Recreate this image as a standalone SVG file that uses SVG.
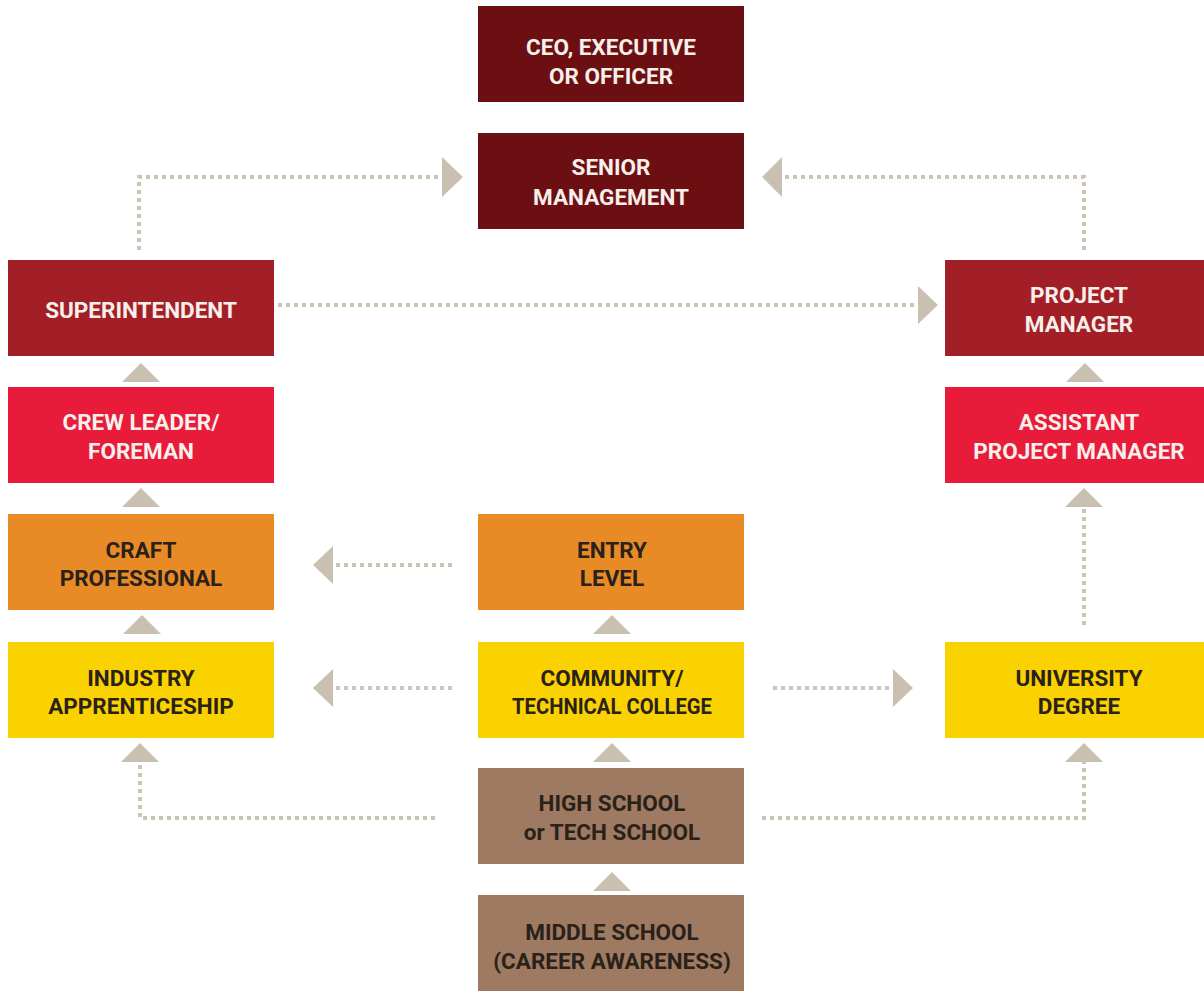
<svg xmlns="http://www.w3.org/2000/svg" width="1204" height="991" viewBox="0 0 1204 991">
<style>
  .box{stroke:none}
  .maroon{fill:#6c0f12}
  .dred{fill:#a31f27}
  .red{fill:#e81b3b}
  .orange{fill:#e88b27}
  .yellow{fill:#f9d200}
  .brown{fill:#9e7a62}
  text{font-family:Roboto,"Liberation Sans",Arial,sans-serif;font-weight:700;font-size:22.5px;text-anchor:middle}
  .lt{fill:#f7f0ea}
  .dk{fill:#2a2119}
  .dot{fill:none;stroke:#cdc4b6;stroke-width:4;stroke-dasharray:4 4}
  .tri{fill:#c9c0b1}
</style>
<rect width="1204" height="991" fill="#ffffff"/>
<g id="connectors">
  <path class="dot" d="M139,250 V177 H442"/>
  <polygon class="tri" points="442,157 463,177 442,197"/>
  <path class="dot" d="M1084,250 V177 H782"/>
  <polygon class="tri" points="782,157 762,177 782,197"/>
  <path class="dot" d="M278,305 H918"/>
  <polygon class="tri" points="918,286 938,305 918,324"/>
  <path class="dot" d="M452,565 H333"/>
  <polygon class="tri" points="333,546 313,565 333,584"/>
  <path class="dot" d="M452,688 H333"/>
  <polygon class="tri" points="333,669 313,688 333,707"/>
  <path class="dot" d="M773,688 H893"/>
  <polygon class="tri" points="893,669 913,688 893,707"/>
  <path class="dot" d="M435,818 H140 V762"/>
  <polygon class="tri" points="121,762 140,743 159,762"/>
  <path class="dot" d="M762,818 H1084 V762"/>
  <polygon class="tri" points="1065,762 1084,743 1103,762"/>
  <path class="dot" d="M1084,625 V507"/>
  <polygon class="tri" points="1065,507 1084,488 1103,507"/>
  <polygon class="tri" points="122,382 141,363 160,382"/>
  <polygon class="tri" points="122,507 141,488 160,507"/>
  <polygon class="tri" points="123,634 142,615 161,634"/>
  <polygon class="tri" points="1066,382 1085,363 1104,382"/>
  <polygon class="tri" points="593,634 612,615 631,634"/>
  <polygon class="tri" points="593,762 612,743 631,762"/>
  <polygon class="tri" points="593,891 612,872 631,891"/>
</g>
<g id="ceo">
  <rect class="box maroon" x="478" y="6" width="266" height="96"/>
  <text class="lt" x="611" y="55">CEO, EXECUTIVE</text>
  <text class="lt" x="611" y="84">OR OFFICER</text>
</g>
<g id="senior-management">
  <rect class="box maroon" x="478" y="133" width="266" height="96"/>
  <text class="lt" x="611" y="175">SENIOR</text>
  <text class="lt" x="611" y="205">MANAGEMENT</text>
</g>
<g id="superintendent">
  <rect class="box dred" x="8" y="260" width="266" height="96"/>
  <text class="lt" x="141" y="318">SUPERINTENDENT</text>
</g>
<g id="project-manager">
  <rect class="box dred" x="945" y="260" width="268" height="96"/>
  <text class="lt" x="1079" y="303">PROJECT</text>
  <text class="lt" x="1079" y="332">MANAGER</text>
</g>
<g id="crew-leader">
  <rect class="box red" x="8" y="387" width="266" height="96"/>
  <text class="lt" x="141" y="430">CREW LEADER/</text>
  <text class="lt" x="141" y="459">FOREMAN</text>
</g>
<g id="assistant-project-manager">
  <rect class="box red" x="945" y="387" width="268" height="96"/>
  <text class="lt" x="1079" y="430">ASSISTANT</text>
  <text class="lt" x="1079" y="459">PROJECT MANAGER</text>
</g>
<g id="craft-professional">
  <rect class="box orange" x="8" y="514" width="266" height="96"/>
  <text class="dk" x="141" y="558">CRAFT</text>
  <text class="dk" x="141" y="586">PROFESSIONAL</text>
</g>
<g id="entry-level">
  <rect class="box orange" x="478" y="514" width="266" height="96"/>
  <text class="dk" x="612" y="558">ENTRY</text>
  <text class="dk" x="612" y="586">LEVEL</text>
</g>
<g id="industry-apprenticeship">
  <rect class="box yellow" x="8" y="642" width="266" height="96"/>
  <text class="dk" x="141" y="686">INDUSTRY</text>
  <text class="dk" x="141" y="714">APPRENTICESHIP</text>
</g>
<g id="community-technical-college">
  <rect class="box yellow" x="478" y="642" width="266" height="96"/>
  <text class="dk" x="612" y="686">COMMUNITY/</text>
  <text class="dk" x="612" y="714" textLength="200" lengthAdjust="spacingAndGlyphs">TECHNICAL COLLEGE</text>
</g>
<g id="university-degree">
  <rect class="box yellow" x="945" y="642" width="268" height="96"/>
  <text class="dk" x="1079" y="686">UNIVERSITY</text>
  <text class="dk" x="1079" y="714">DEGREE</text>
</g>
<g id="high-school">
  <rect class="box brown" x="478" y="768" width="266" height="96"/>
  <text class="dk" x="612" y="811">HIGH SCHOOL</text>
  <text class="dk" x="612" y="840">or TECH SCHOOL</text>
</g>
<g id="middle-school">
  <rect class="box brown" x="478" y="895" width="266" height="96"/>
  <text class="dk" x="612" y="940">MIDDLE SCHOOL</text>
  <text class="dk" x="612" y="969">(CAREER AWARENESS)</text>
</g>
</svg>
